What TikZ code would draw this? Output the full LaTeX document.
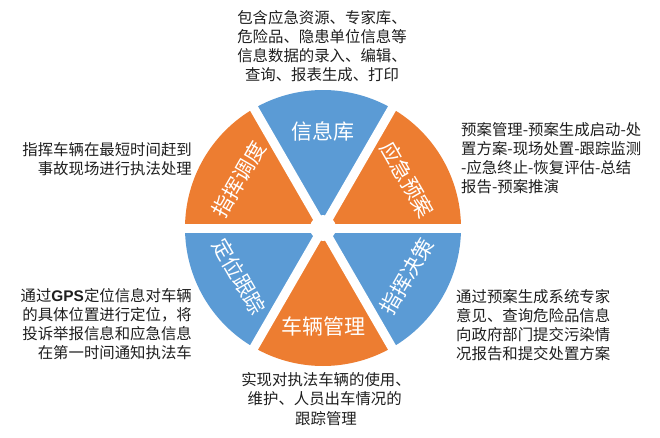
\documentclass[tikz,border=0pt]{standalone}
\usepackage{fontspec}
\setmainfont{Liberation Sans}
\newfontfamily\cjk{Noto Sans CJK SC}
\usepackage{tikz}
\usetikzlibrary{positioning}
\definecolor{WBlue}{RGB}{91,155,213}
\definecolor{WOrange}{RGB}{237,125,49}
\definecolor{WText}{RGB}{30,30,30}

\begin{document}
\begin{tikzpicture}[x=1pt, y=1pt,
          wlabel/.style={font=\cjk\fontsize{21}{21}\selectfont, text=white,
                         inner sep=0pt},
          desc/.style={font=\cjk\fontsize{15.4}{19.2}\selectfont, text=WText,
                       inner sep=0pt}
        ]
        \useasboundingbox (0,0) rectangle (660,437);
        \coordinate (c) at (323,209);

        % Wheel sectors
        \foreach \a/\col in {0/WOrange, 60/WBlue, 120/WOrange,
                             180/WBlue, 240/WOrange, 300/WBlue}
          \fill[\col] (c) -- ([shift={(\a:138)}]c)
                arc[start angle=\a, end angle=\a+60, radius=138] -- cycle;

        % White gaps and hub
        \foreach \a in {0,60,...,300}
          \draw[white, line width=9pt] (c) -- ([shift={(\a:146)}]c);
        \fill[white] (c) circle (13);

        % Sector labels
        \node[wlabel]            (info)     at ([shift={(90:97)}]c)  {信息库};
        \node[wlabel, rotate=-60] (plan)    at ([shift={(30:97)}]c)  {应急预案};
        \node[wlabel, rotate=60] (decide)   at ([shift={(330:97)}]c) {指挥决策};
        \node[wlabel]            (vehicle)  at ([shift={(270:98)}]c) {车辆管理};
        \node[wlabel, rotate=-60] (locate)  at ([shift={(210:97)}]c) {定位跟踪};
        \node[wlabel, rotate=60] (dispatch) at ([shift={(150:97)}]c) {指挥调度};

        % Descriptions
        \node[desc, align=center] (infoT) at (322,391)
              {包含应急资源、专家库、\\危险品、隐患单位信息等\\信息数据的录入、编辑、\\查询、报表生成、打印};
        \node[desc, align=left, anchor=west] (planT) at (461,279)
              {预案管理-预案生成启动-处\\置方案-现场处置-跟踪监测\\-应急终止-恢复评估-总结\\报告-预案推演};
        \node[desc, align=left, anchor=west] (decideT) at (456,112)
              {通过预案生成系统专家\\意见、查询危险品信息\\向政府部门提交污染情\\况报告和提交处置方案};
        \node[desc, align=center] (vehicleT) at (326,38)
              {实现对执法车辆的使用、\\维护、人员出车情况的\,\\跟踪管理};
        \node[desc, align=right, anchor=east] (locateT) at (192,113)
              {通过{\rmfamily\bfseries GPS}定位信息对车辆\\的具体位置进行定位，将\\投诉举报信息和应急信息\\在第一时间通知执法车};
        \node[desc, align=right, anchor=east] (dispatchT) at (192,278)
              {指挥车辆在最短时间赶到\\事故现场进行执法处理};
      \end{tikzpicture}
\end{document}
